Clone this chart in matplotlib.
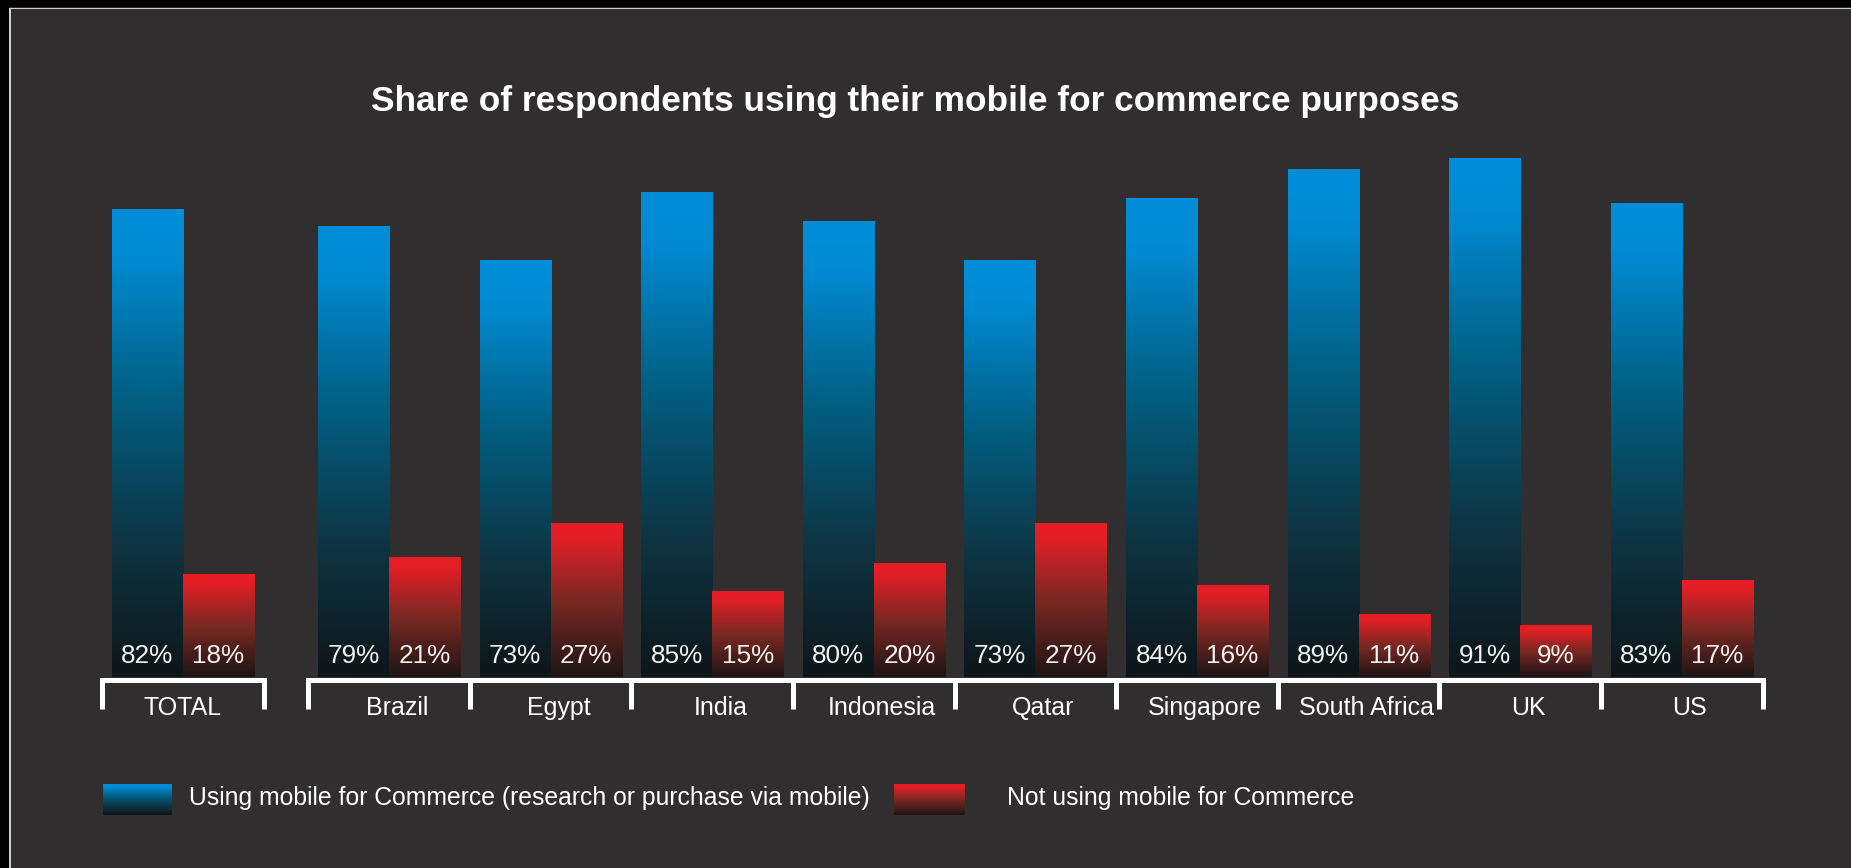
import numpy as np
import matplotlib
matplotlib.use("Agg")
import matplotlib.pyplot as plt
from matplotlib.colors import LinearSegmentedColormap
from matplotlib.patches import Rectangle

plt.rcParams['font.family'] = ['Liberation Sans', 'DejaVu Sans']

categories = ['TOTAL', 'Brazil', 'Egypt', 'India', 'Indonesia', 'Qatar',
              'Singapore', 'South Africa', 'UK', 'US']
using = [82, 79, 73, 85, 80, 73, 84, 89, 91, 83]
not_using = [18, 21, 27, 15, 20, 27, 16, 11, 9, 17]

title = 'Share of respondents using their mobile for commerce purposes'
legend_labels = ['Using mobile for Commerce (research or purchase via mobile)',
                 'Not using mobile for Commerce']

BG = '#302e2f'
W, H = 1851, 868
blue_cmap = LinearSegmentedColormap.from_list(
    'blue', [(0, '#0e1619'), (0.3, '#0d3645'), (0.6, '#015f82'),
             (0.9, '#008bd4'), (1, '#008dd8')])
red_cmap = LinearSegmentedColormap.from_list(
    'red', [(0, '#1e1515'), (0.5, '#7a2822'), (0.9, '#e11f26'), (1, '#ea1c24')])
grad = np.linspace(0, 1, 256).reshape(-1, 1)

fig = plt.figure(figsize=(W / 100, H / 100), dpi=100, facecolor=BG)

# black frame on top and left with a thin light rim
fig.add_artist(Rectangle((0, 1 - 7 / H), 1, 7 / H, transform=fig.transFigure,
                         color='black', lw=0))
fig.add_artist(Rectangle((0, 0), 9 / W, 1, transform=fig.transFigure,
                         color='black', lw=0))
fig.add_artist(Rectangle((9 / W, 1 - 9 / H), 1, 1.5 / H, transform=fig.transFigure,
                         color='#d0d0d0', lw=0))
fig.add_artist(Rectangle((9 / W, 0), 1.5 / W, 1 - 7.5 / H, transform=fig.transFigure,
                         color='#d0d0d0', lw=0))

# plot area: 0..100 % maps onto rows 677..107
step = 161.6
x0_px = 183
ax = fig.add_axes([0, (H - 677) / H, 1, 570 / H])
ax.set_facecolor('none')
ax.axis('off')

gap = 1.275
pos = np.array([0] + [gap + i for i in range(len(categories) - 1)], dtype=float)
bw = 0.44

for x, u, n in zip(pos, using, not_using):
    ax.imshow(grad, cmap=blue_cmap, origin='lower', aspect='auto',
              extent=[x - bw, x, 0, u], interpolation='bilinear', zorder=2)
    ax.imshow(grad, cmap=red_cmap, origin='lower', aspect='auto',
              extent=[x, x + bw, 0, n], interpolation='bilinear', zorder=2)
    ax.text(x - bw / 2, 3.6, f'{u}%', color='#f2f2f2', fontsize=18.8,
            ha='center', va='center', zorder=3)
    ax.text(x + bw / 2, 3.6, f'{n}%', color='#f2f2f2', fontsize=18.8,
            ha='center', va='center', zorder=3)

# brackets under the groups
ytop, ybot = -0.55, -5.6
lw = 3.6
ax.plot([-0.5, -0.5, 0.5, 0.5], [ybot, ytop, ytop, ybot], color='white',
        lw=lw, clip_on=False, solid_joinstyle='miter', solid_capstyle='butt')
left, right = pos[1] - 0.5, pos[-1] + 0.5
ax.plot([left, left, right, right], [ybot, ytop, ytop, ybot], color='white',
        lw=lw, clip_on=False, solid_joinstyle='miter', solid_capstyle='butt')
for x in pos[1:-1]:
    ax.plot([x + 0.5, x + 0.5], [ytop, ybot], color='white', lw=lw,
            clip_on=False, solid_capstyle='butt')

for x, c in zip(pos, categories):
    ax.text(x + (0.05 if c != 'TOTAL' else 0), -5.45, c, color='white',
            fontsize=18, ha='center', va='center')

ax.set_xlim(-x0_px / step, (W - x0_px) / step)
ax.set_ylim(0, 100)

fig.text(915 / W, (H - 102) / H, title, color='white', fontsize=25.4,
         fontweight='bold', ha='center', va='center')

# legend
for (xa, xb), cmap, label, tx in [((103, 172), blue_cmap, legend_labels[0], 189),
                                   ((894, 965), red_cmap, legend_labels[1], 1007)]:
    sw = fig.add_axes([xa / W, (H - 815) / H, (xb - xa) / W, 31 / H])
    sw.imshow(grad, cmap=cmap, origin='lower', aspect='auto',
              interpolation='bilinear')
    sw.axis('off')
    fig.text(tx / W, (H - 798) / H, label, color='white', fontsize=17.8,
             ha='left', va='center')

fig.savefig('out.png', dpi=100, facecolor=BG)
